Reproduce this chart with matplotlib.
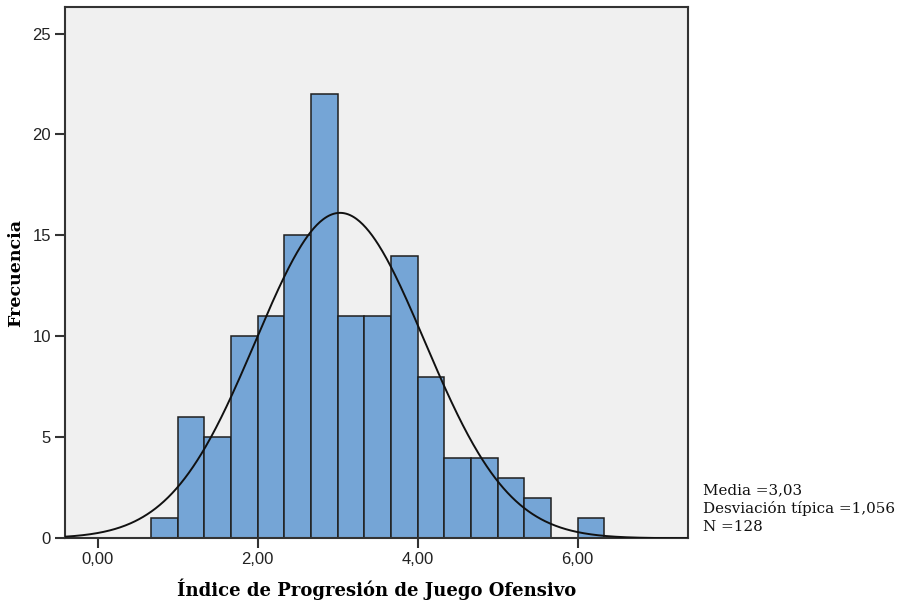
import numpy as np
import matplotlib
matplotlib.use("Agg")
import matplotlib.pyplot as plt

# Histogram of the offensive progression index (bins of width 1/3)
bin_edges = [2/3 + i/3 for i in range(18)]
frequencies = [1, 6, 5, 10, 11, 15, 22, 11, 11, 14, 8, 4, 4, 3, 2, 0, 1]
mean_value = 3.03
std_value = 1.056
n_value = 128

x_ticks = [0, 2, 4, 6]
x_tick_labels = ["0,00", "2,00", "4,00", "6,00"]
y_ticks = [0, 5, 10, 15, 20, 25]

fig = plt.figure(figsize=(9.01, 6.02), dpi=100)
fig.patch.set_facecolor("white")
ax = fig.add_axes([0.0721, 0.1058, 0.764 - 0.0721, 0.9879 - 0.1058])
ax.set_facecolor("#F0F0F0")

lefts = np.array(bin_edges[:-1])
widths = np.diff(bin_edges)
ax.bar(lefts, frequencies, width=widths, align="edge",
       color="#75A5D6", edgecolor="#1f1f1f", linewidth=1.1, zorder=2)

# Fitted normal curve scaled to counts
xs = np.linspace(-0.41, 7.39, 600)
bw = widths[0]
curve = n_value * bw / (std_value * np.sqrt(2 * np.pi)) * np.exp(-0.5 * ((xs - mean_value) / std_value) ** 2)
ax.plot(xs, curve, color="#111111", linewidth=1.4, zorder=3)

ax.set_xlim(-0.41, 7.385)
ax.set_ylim(0, 26.3)
ax.set_xticks(x_ticks)
ax.set_xticklabels(x_tick_labels)
ax.set_yticks(y_ticks)
for lbl in ax.get_xticklabels() + ax.get_yticklabels():
    lbl.set_fontfamily("Liberation Sans")
    lbl.set_fontsize(12)
    lbl.set_color("#222222")
ax.tick_params(axis="both", direction="out", length=7, width=1.5, color="#333333", pad=3)

for s in ax.spines.values():
    s.set_color("#333333")
    s.set_linewidth(1.5)

ax.set_xlabel("Índice de Progresión de Juego Ofensivo", fontfamily="DejaVu Serif",
              fontweight="bold", fontsize=13, labelpad=8)
ax.set_ylabel("Frecuencia", fontfamily="DejaVu Serif", fontweight="bold",
              fontsize=12.5, labelpad=6)

stats = [f"Media ={mean_value:.2f}".replace(".", ","),
         f"Desviación típica ={std_value:.3f}".replace(".", ","),
         f"N ={n_value}"]
for i, line in enumerate(stats):
    fig.text(703 / 901, 1 - (490 + i * 18.5) / 602, line, fontfamily="DejaVu Serif",
             fontsize=10.9, color="#111111", va="center", ha="left")

fig.savefig("out.png", dpi=100)
